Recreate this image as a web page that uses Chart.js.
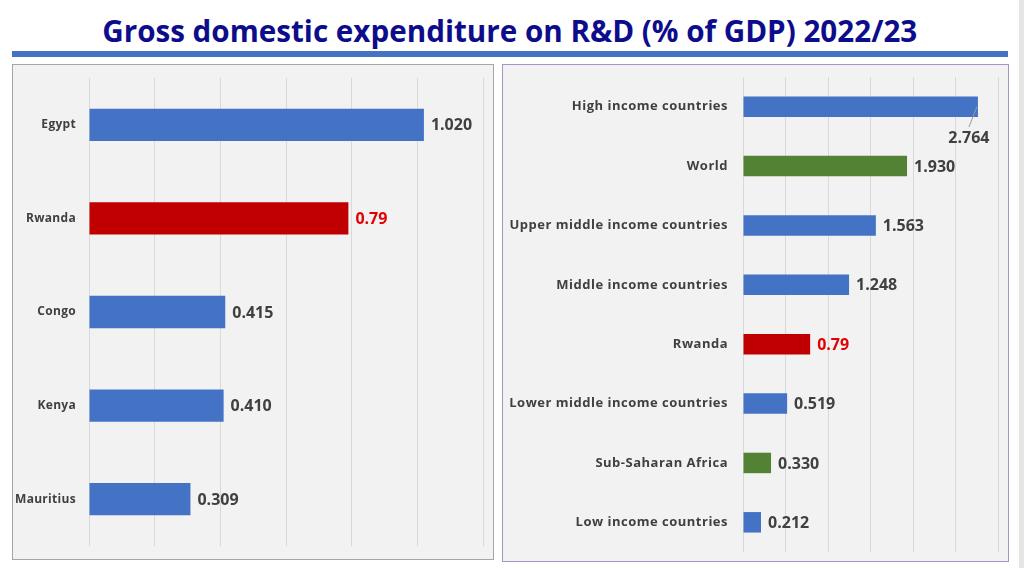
<!DOCTYPE html>
<html>
<head>
<meta charset="utf-8">
<script src="https://cdn.jsdelivr.net/npm/chart.js@4.4.1/dist/chart.umd.min.js"></script>
<style>
  html, body { margin:0; padding:0; background:#ffffff; }
  body { width:1024px; height:568px; position:relative; overflow:hidden; font-family:"Open Sans", sans-serif; }
  #title { position:absolute; left:0; top:12px; width:1019px; text-align:center; white-space:nowrap; }
  #title span { display:inline-block; font-weight:700; font-size:30px; line-height:38px; color:#0D0D8C; transform-origin:center; }
  #rule { position:absolute; left:12px; top:51px; width:996px; height:6px; background:#4472C4; }
  #strip { position:absolute; left:1019px; top:0; width:5px; height:568px; background:#e6e6e6; }
  .panel { position:absolute; background:#f2f2f2; box-sizing:border-box; }
  #pl { left:12px; top:64px; width:482px; height:496px; border:1px solid #a6a6a6; }
  #pr { left:502px; top:64px; width:507px; height:498px; border:1px solid #a993c4; }
  .wrap { position:absolute; left:0; top:0; right:0; bottom:0; }
</style>
</head>
<body>
<div id="title"><span id="tt">Gross domestic expenditure on R&amp;D (% of GDP) 2022/23</span></div>
<div id="rule"></div>
<div id="strip"></div>
<div class="panel" id="pl"><div class="wrap"><canvas id="cl"></canvas></div></div>
<div class="panel" id="pr"><div class="wrap"><canvas id="cr"></canvas></div></div>
<script>
// ---- data ----
const leftCategories = ['Egypt', 'Rwanda', 'Congo', 'Kenya', 'Mauritius'];
const leftValues = [1.020, 0.79, 0.415, 0.410, 0.309];
const leftValueLabels = ['1.020', '0.79', '0.415', '0.410', '0.309'];

const rightCategories = ['High income countries', 'World', 'Upper middle income countries', 'Middle income countries',
  'Rwanda', 'Lower middle income countries', 'Sub-Saharan Africa', 'Low income countries'];
const rightValues = [2.764, 1.930, 1.563, 1.248, 0.79, 0.519, 0.330, 0.212];
const rightValueLabels = ['2.764', '1.930', '1.563', '1.248', '0.79', '0.519', '0.330', '0.212'];

const aggregateRegions = ['World', 'Sub-Saharan Africa'];
const highlight = 'Rwanda';

// ---- styling helpers ----
const BLUE = '#4472C4', RED = '#C00000', GREEN = '#548235';
function barColor(name) {
  if (name === highlight) return RED;
  if (aggregateRegions.includes(name)) return GREEN;
  return BLUE;
}
function labelColor(name) { return name === highlight ? '#E30000' : '#404040'; }

// fit title width
(function () {
  const tt = document.getElementById('tt');
  const w = tt.getBoundingClientRect().width;
  tt.style.transform = 'scaleX(' + (815 / w) + ')';
})();

const spacingPlugin = {
  id: 'letterSpacing',
  beforeDraw(chart, args, opts) { chart.ctx.letterSpacing = opts.value || '0px'; }
};

const valueLabelPlugin = {
  id: 'valueLabels',
  afterDatasetsDraw(chart, args, opts) {
    const ctx = chart.ctx;
    const meta = chart.getDatasetMeta(0);
    const cats = chart.data.labels;
    const texts = opts.texts;
    ctx.save();
    ctx.letterSpacing = '0px';
    ctx.font = 'bold 16px "Open Sans", sans-serif';
    ctx.textBaseline = 'middle';
    meta.data.forEach((bar, i) => {
      const t = texts[i];
      const w = ctx.measureText(t).width;
      ctx.fillStyle = labelColor(cats[i]);
      let x = bar.x + 7;
      if (x + w > chart.chartArea.right) {
        // place below the bar with a leader line
        const cx = bar.x - 9;
        const cy = bar.y + bar.height / 2 + 22;
        ctx.strokeStyle = '#9a9a9a';
        ctx.lineWidth = 1;
        ctx.beginPath();
        ctx.moveTo(bar.x - 1, bar.y);
        ctx.lineTo(cx, cy - 12);
        ctx.stroke();
        ctx.textAlign = 'center';
        ctx.fillText(t, cx, cy);
      } else {
        ctx.textAlign = 'left';
        ctx.fillText(t, x, bar.y + 1);
      }
    });
    ctx.restore();
  }
};

function makeChart(id, cats, vals, texts, max, step, yWidth, tickPad, padding, fontSize, spacing) {
  return new Chart(document.getElementById(id), {
    type: 'bar',
    data: {
      labels: cats,
      datasets: [{
        data: vals,
        backgroundColor: cats.map(barColor),
        borderWidth: 0,
        barPercentage: 0.345,
        categoryPercentage: 1.0
      }]
    },
    options: {
      indexAxis: 'y',
      responsive: true,
      maintainAspectRatio: false,
      animation: false,
      layout: { padding: padding },
      plugins: {
        legend: { display: false },
        tooltip: { enabled: false },
        valueLabels: { texts: texts },
        letterSpacing: { value: spacing }
      },
      scales: {
        x: {
          min: 0, max: max,
          ticks: { display: false, stepSize: step },
          grid: { color: '#d9d9d9', lineWidth: 1, drawTicks: false },
          border: { display: false },
          afterFit(s) { s.height = 0; s.paddingLeft = 0; s.paddingRight = 0; }
        },
        y: {
          ticks: {
            color: '#404040',
            padding: tickPad,
            font: { family: '"Open Sans", sans-serif', weight: 'bold', size: fontSize }
          },
          grid: { display: false, drawTicks: false },
          border: { display: false },
          afterFit(s) { s.width = yWidth; s.paddingTop = 0; s.paddingBottom = 0; }
        }
      }
    },
    plugins: [spacingPlugin, valueLabelPlugin]
  });
}

makeChart('cl', leftCategories, leftValues, leftValueLabels, 1.2, 0.2, 76, 13,
  { left: 0, right: 10, top: 13, bottom: 13 }, 12, '0.3px');
makeChart('cr', rightCategories, rightValues, rightValueLabels, 3.0, 0.5, 240, 15,
  { left: 0, right: 10, top: 12, bottom: 9 }, 13, '0.5px');
</script>
</body>
</html>
